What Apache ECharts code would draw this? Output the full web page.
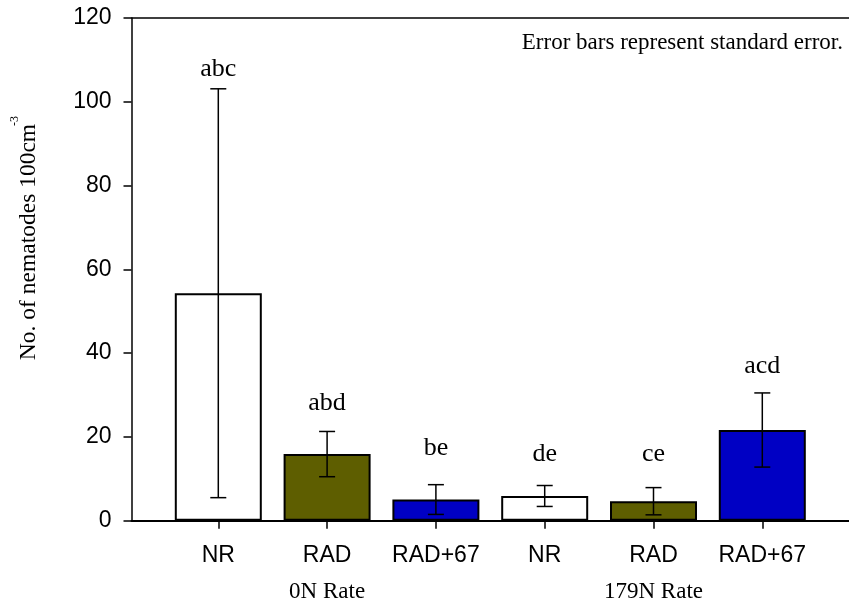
<!DOCTYPE html>
<html>
<head>
<meta charset="utf-8">
<script src="https://cdn.jsdelivr.net/npm/echarts@6/dist/echarts.min.js"></script>
<style>
html,body{margin:0;padding:0;background:#fff;}
#chart{width:849px;height:607px;}
</style>
</head>
<body>
<div id="chart"></div>
<script>
// ---- data ----
const categories = ['NR', 'RAD', 'RAD+67', 'NR', 'RAD', 'RAD+67'];
const groups = ['0N Rate', '179N Rate'];
const means = [54.3, 15.9, 5.05, 5.9, 4.65, 21.65];
const stdErr = [48.8, 5.4, 3.55, 2.5, 3.25, 8.85];
const letters = ['abc', 'abd', 'be', 'de', 'ce', 'acd'];
const letterPos = [107.7, 28.0, 17.2, 15.8, 15.8, 36.9];
const yTicks = { min: 0, max: 120, interval: 20 };
const yName = 'No. of nematodes 100cm';
const yNameSup = '-3';
const note = 'Error bars represent standard error.';

// ---- styles ----
const treatmentColor = { 'NR': '#ffffff', 'RAD': '#5e5e00', 'RAD+67': '#0000c4' };
const SERIF = '"Liberation Serif","Times New Roman",serif';
const SANS = '"Liberation Sans",Arial,sans-serif';

const chart = echarts.init(document.getElementById('chart'), null, { renderer: 'canvas' });

const barData = means.map((v, i) => ({
  value: v,
  itemStyle: { color: treatmentColor[categories[i]] }
}));
const errData = means.map((v, i) => [i, v - stdErr[i], v + stdErr[i], letterPos[i]]);

const option = {
  animation: false,
  backgroundColor: '#ffffff',
  grid: [
    { left: 131.5, right: 0, top: 18, bottom: 86.3 },
    { left: 163.9, right: 32.3, top: 18, bottom: 86.3 }
  ],
  xAxis: [
    { gridIndex: 0, type: 'value', position: 'bottom', min: 0, max: 1,
      axisLine: { show: true, onZero: false, lineStyle: { color: '#000', width: 2 } },
      axisTick: { show: false }, axisLabel: { show: false }, splitLine: { show: false } },
    { gridIndex: 0, type: 'value', position: 'top', min: 0, max: 1,
      axisLine: { show: true, onZero: false, lineStyle: { color: '#000', width: 1.5 } },
      axisTick: { show: false }, axisLabel: { show: false }, splitLine: { show: false } },
    { gridIndex: 1, type: 'category', position: 'bottom', data: categories, boundaryGap: true,
      axisLine: { show: false, onZero: false },
      axisTick: { show: true, interval: 0, alignWithLabel: true, length: 8, lineStyle: { color: '#000', width: 1.5 } },
      axisLabel: { show: true, interval: 0, hideOverlap: false, margin: 23, color: '#000', fontFamily: SANS, fontSize: 23 },
      splitLine: { show: false } },
    { gridIndex: 1, type: 'category', position: 'bottom', data: groups, boundaryGap: true,
      axisLine: { show: false, onZero: false }, axisTick: { show: false },
      axisLabel: { show: true, interval: 0, margin: 60, color: '#000', fontFamily: SERIF, fontSize: 23 },
      splitLine: { show: false } }
  ],
  yAxis: [
    { gridIndex: 0, type: 'value', position: 'left', min: yTicks.min, max: yTicks.max, interval: yTicks.interval,
      axisLine: { show: true, lineStyle: { color: '#000', width: 1.5 } },
      axisTick: { show: true, inside: false, length: 8, lineStyle: { color: '#000', width: 1.5 } },
      axisLabel: { show: true, margin: 20, color: '#000', fontFamily: SANS, fontSize: 23 },
      splitLine: { show: false } },
    { gridIndex: 1, type: 'value', min: yTicks.min, max: yTicks.max, interval: yTicks.interval,
      show: false, splitLine: { show: false } }
  ],
  series: [
    {
      type: 'bar', xAxisIndex: 2, yAxisIndex: 1,
      data: barData, barWidth: 87,
      itemStyle: { borderColor: '#000', borderWidth: 2 },
      z: 2
    },
    {
      type: 'custom', xAxisIndex: 2, yAxisIndex: 1,
      data: errData, z: 5,
      renderItem: function (params, api) {
        const idx = api.value(0);
        const lo = api.coord([idx, api.value(1)]);
        const hi = api.coord([idx, api.value(2)]);
        const lp = api.coord([idx, api.value(3)]);
        const half = 8;
        const st = { stroke: '#000', lineWidth: 1.5 };
        return {
          type: 'group',
          children: [
            { type: 'line', shape: { x1: hi[0], y1: hi[1], x2: lo[0], y2: lo[1] }, style: st },
            { type: 'line', shape: { x1: hi[0] - half, y1: hi[1], x2: hi[0] + half, y2: hi[1] }, style: st },
            { type: 'line', shape: { x1: lo[0] - half, y1: lo[1], x2: lo[0] + half, y2: lo[1] }, style: st },
            { type: 'text', x: lp[0], y: lp[1],
              style: { text: letters[params.dataIndex], fill: '#000', font: '26px ' + SERIF,
                       align: 'center', verticalAlign: 'middle' } }
          ]
        };
      }
    }
  ],
  graphic: [
    { type: 'text', x: 28.9, y: 242, rotation: Math.PI / 2,
      style: { text: yName, fill: '#000', font: '23.5px ' + SERIF, align: 'center', verticalAlign: 'middle' } },
    { type: 'text', x: 14.8, y: 121, rotation: Math.PI / 2,
      style: { text: yNameSup, fill: '#000', font: '12px ' + SERIF, align: 'center', verticalAlign: 'middle' } },
    { type: 'text', x: 843, y: 42.9,
      style: { text: note, fill: '#000', font: '23px ' + SERIF, align: 'right', verticalAlign: 'middle' } }
  ]
};
chart.setOption(option);
</script>
</body>
</html>
